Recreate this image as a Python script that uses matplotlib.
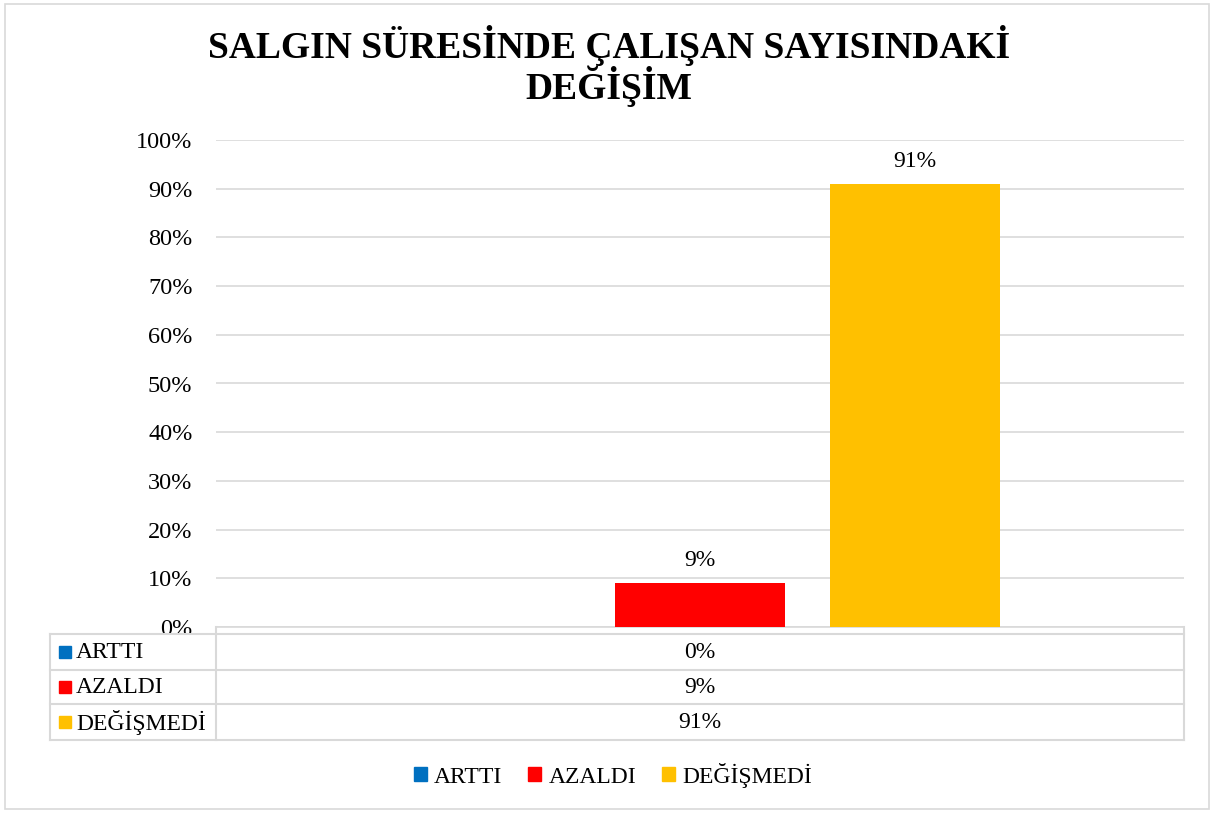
import numpy as np
import matplotlib.pyplot as plt
from matplotlib.patches import Rectangle

plt.rcParams['font.family'] = ['Liberation Serif', 'DejaVu Serif']

series = ['ARTTI', 'AZALDI', 'DEĞİŞMEDİ']
values = [0, 9, 91]
colors = ['#0070C0', '#FF0000', '#FFC000']
title = 'SALGIN SÜRESİNDE ÇALIŞAN SAYISINDAKİ\nDEĞİŞİM'

W, H = 1214, 813
fig = plt.figure(figsize=(W / 100, H / 100), dpi=100)

def fx(px):
    return px / W

def fy(py):
    return 1 - py / H

# outer border
fig.patches.append(Rectangle((fx(5), fy(809)), fx(1204), 805 / H, transform=fig.transFigure,
                             fill=False, edgecolor='#D9D9D9', linewidth=1.2))

fig.text(fx(609), fy(66), title, ha='center', va='center', fontsize=27, fontweight='bold',
         linespacing=1.0)

left, right, top, bot = 216, 1184, 140, 627
ax = fig.add_axes([fx(left), fy(bot), fx(right - left), (bot - top) / H])
width = 0.176
step = 0.222
xs = (np.arange(len(values)) - 1) * step
bars = ax.bar(xs, values, width=width, color=colors, zorder=3)
for x, v in zip(xs, values):
    if v > 0:
        ax.text(x, v + 2.5, f'{v}%', ha='center', va='bottom', fontsize=17)
ax.set_xlim(-0.5, 0.5)
ax.set_ylim(0, 100)
ax.set_yticks(np.arange(0, 101, 10))
ax.set_yticklabels([f'{t}%' for t in range(0, 101, 10)], fontsize=17.5)
ax.set_xticks([])
ax.grid(axis='y', color='#D9D9D9', linewidth=1.2, zorder=0)
for s in ['top', 'right', 'left']:
    ax.spines[s].set_visible(False)
ax.spines['bottom'].set_color('#D9D9D9')
ax.spines['bottom'].set_linewidth(1.2)
ax.tick_params(axis='y', length=0, pad=17)

# data table
tab = fig.add_axes([0, 0, 1, 1], facecolor='none')
tab.set_xlim(0, W)
tab.set_ylim(H, 0)
tab.axis('off')
lc = '#D9D9D9'
rows = [634, 670, 704, 740]
for y in rows:
    tab.plot([50, right], [y, y], color=lc, lw=1.5)
tab.plot([50, 50], [634, 740], color=lc, lw=1.5)
tab.plot([left, left], [627, 740], color=lc, lw=1.5)
tab.plot([right, right], [627, 740], color=lc, lw=1.5)
for i, (name, v, c) in enumerate(zip(series, values, colors)):
    yc = (rows[i] + rows[i + 1]) / 2
    tab.add_patch(Rectangle((59, yc - 6), 12, 12, color=c))
    tab.text(76, yc, name, ha='left', va='center', fontsize=17)
    tab.text((left + right) / 2, yc, f'{v}%', ha='center', va='center', fontsize=17)

# legend
handles = [Rectangle((0, 0), 1, 1, color=c) for c in colors]
fig.legend(handles, series, loc='center', bbox_to_anchor=(fx(613), fy(775)), ncol=3,
           frameon=False, fontsize=17, handlelength=0.55, handleheight=0.55,
           handletextpad=0.3, columnspacing=1.1)

fig.savefig('out.png', dpi=100)
